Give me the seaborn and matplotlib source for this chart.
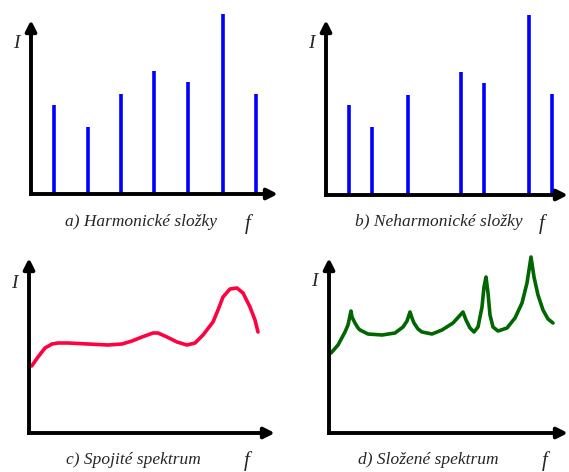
import matplotlib
matplotlib.use("Agg")
import matplotlib.pyplot as plt
import seaborn as sns
import pandas as pd

sns.set_style("white")
plt.rcParams['font.family'] = ['Liberation Serif', 'DejaVu Serif']

W, H = 569, 472

# a) harmonic components: frequency and intensity (arbitrary units)
harm_f = [2.3, 5.7, 9.0, 12.3, 15.7, 19.2, 22.5]
harm_i = [8.9, 6.7, 10.0, 12.3, 11.2, 18.0, 10.0]

# b) non-harmonic components
nonharm_f = [2.3, 4.6, 8.2, 13.5, 15.8, 20.3, 22.6]
nonharm_i = [9.0, 6.8, 10.0, 12.3, 11.2, 18.0, 10.1]

# c) continuous spectrum
cont_f = [0.27, 0.9, 1.6, 2.3, 2.9, 3.9, 5.9, 7.9, 9.3, 10.3, 11.3, 12.4, 12.9,
          13.8, 14.8, 15.8, 16.6, 17.4, 18.4, 18.9, 19.4, 20.1, 20.8, 21.4,
          22.1, 22.6, 22.9]
cont_i = [6.7, 7.6, 8.5, 8.9, 9.0, 9.0, 8.9, 8.8, 8.9, 9.2, 9.6, 10.0, 10.0,
          9.6, 9.1, 8.8, 9.0, 9.8, 11.1, 12.3, 13.6, 14.4, 14.5, 14.0,
          12.6, 11.3, 10.1]

# d) composite spectrum
comp_f = [0.2, 0.9, 1.6, 1.9, 2.2, 2.3, 2.6, 2.9, 3.1, 3.9, 5.3, 6.6, 7.4, 7.8,
          8.1, 8.3, 8.5, 8.9, 9.3, 10.3, 11.3, 12.4, 13.4, 13.7, 14.1, 14.5,
          14.9, 15.3, 15.5, 15.7, 15.9, 16.1, 16.4, 16.9, 17.8, 18.6, 19.3,
          19.8, 20.2, 20.5, 20.9, 21.4, 21.9, 22.4]
comp_i = [8.0, 8.8, 10.1, 10.8, 12.2, 11.6, 11.0, 10.5, 10.3, 9.9, 9.8, 10.0,
          10.6, 11.2, 12.1, 11.5, 11.0, 10.4, 10.1, 9.9, 10.3, 11.0, 12.1, 11.3,
          10.5, 10.1, 10.6, 12.6, 14.6, 15.6, 14.0, 11.8, 10.6, 10.2, 10.5,
          11.5, 13.0, 15.0, 17.6, 15.6, 13.8, 12.3, 11.4, 11.0]

captions = ['a) Harmonické složky', 'b) Neharmonické složky',
            'c) Spojité spektrum', 'd) Složené spektrum']

# axes origin and arrow tips in pixels: (x0, y0, x_tip, y_tip)
boxes = [(31, 194, 278, 20), (326, 195, 568, 20),
         (29, 433, 275, 258), (329, 433, 568, 258)]
caption_pos = [(141, 222), (439, 222), (133, 460), (428, 460)]
f_pos = [(248, 224), (542, 224), (247, 461), (545, 461)]
i_pos = [(16, 43), (311, 43), (14, 283), (314, 281)]

fig = plt.figure(figsize=(W / 100, H / 100), dpi=100)
fig.patch.set_facecolor('white')

axes = []
for (x0, y0, xt, yt) in boxes:
    ax = fig.add_axes([x0 / W, 1 - y0 / H, (xt - x0) / W, (y0 - yt) / H])
    ax.set_xlim(0, (xt - x0) / 10)
    ax.set_ylim(0, (y0 - yt) / 10)
    ax.set_axis_off()
    arrow = dict(arrowstyle='-|>', lw=2.8, color='black', mutation_scale=16,
                 shrinkA=0, shrinkB=0, capstyle='butt')
    ax.annotate('', xy=(1, 0), xytext=(-0.008, 0), xycoords='axes fraction',
                arrowprops=arrow, annotation_clip=False)
    ax.annotate('', xy=(0, 1), xytext=(0, -0.011), xycoords='axes fraction',
                arrowprops=arrow, annotation_clip=False)
    axes.append(ax)

axes[0].vlines(harm_f, 0, harm_i, color='#0000FF', lw=2.6, clip_on=False)
axes[1].vlines(nonharm_f, 0, nonharm_i, color='#0000FF', lw=2.6, clip_on=False)

df_c = pd.DataFrame({'f': cont_f, 'I': cont_i})
sns.lineplot(data=df_c, x='f', y='I', sort=False, ax=axes[2], color='#FF0040',
             lw=2.6, clip_on=False)
df_d = pd.DataFrame({'f': comp_f, 'I': comp_i})
sns.lineplot(data=df_d, x='f', y='I', sort=False, ax=axes[3], color='#006600',
             lw=2.6, clip_on=False)
for ax in axes[2:]:
    ax.set_axis_off()

for k in range(4):
    cx, cy = caption_pos[k]
    fig.text(cx / W, 1 - cy / H, captions[k], ha='center', va='center',
             fontsize=12.5, style='italic')
    fx, fy = f_pos[k]
    fig.text(fx / W, 1 - fy / H, 'f', ha='center', va='center',
             fontsize=15, style='italic')
    ix, iy = i_pos[k]
    fig.text(ix / W, 1 - iy / H, 'I', ha='center', va='center',
             fontsize=14, style='italic')

fig.savefig('out.png', dpi=100)
